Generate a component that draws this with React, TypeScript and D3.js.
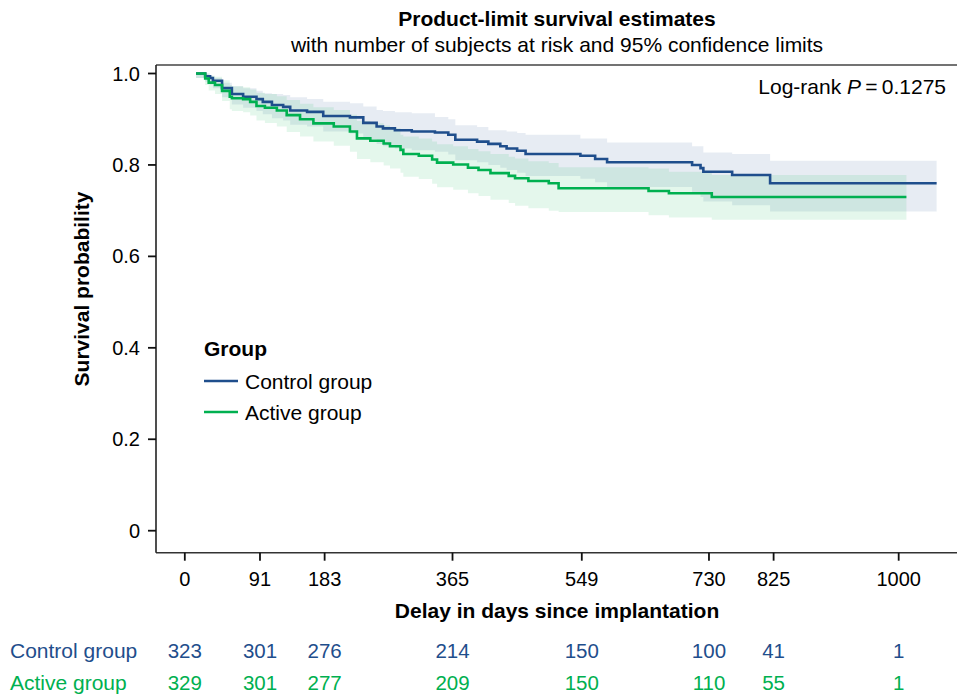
import React from 'react';
import * as d3 from 'd3';

// Kaplan-Meier steps (days, survival, 95% limits)
const ctrlDays = [0, 13, 20, 24, 37, 51, 67, 86, 95, 108, 124, 134, 158, 181, 219, 238, 257, 266, 283, 307, 340, 359, 369, 400, 416, 433, 442, 457, 469, 547, 568, 585, 706, 718, 722, 763, 817];
const ctrlSurv = [1.0, .994, .990, .984, .968, .955, .949, .944, .938, .931, .927, .919, .916, .907, .904, .892, .884, .880, .876, .873, .871, .866, .855, .851, .846, .841, .836, .831, .824, .820, .813, .806, .800, .793, .785, .778, .760];
const ctrlUpper = [1.0, 1.0, .995, .99, .98, .972, .968, .962, .957, .955, .953, .948, .944, .938, .935, .928, .920, .918, .915, .913, .905, .900, .887, .883, .876, .876, .873, .870, .866, .858, .858, .849, .841, .841, .827, .824, .809];
const ctrlLower = [.99, .982, .976, .968, .948, .932, .925, .918, .911, .902, .897, .888, .884, .873, .869, .856, .846, .841, .836, .832, .829, .823, .810, .806, .800, .794, .789, .783, .776, .770, .762, .752, .740, .730, .720, .712, .698];
const ctrlEnd = 1054;

const actDays = [0, 13, 18, 27, 37, 48, 51, 67, 77, 86, 98, 115, 129, 148, 167, 196, 219, 229, 248, 267, 276, 291, 295, 317, 336, 343, 366, 387, 402, 419, 445, 454, 473, 502, 516, 644, 673, 734];
const actSurv = [1.0, .989, .980, .975, .962, .949, .946, .944, .938, .929, .925, .919, .909, .900, .891, .884, .873, .858, .853, .847, .841, .833, .824, .820, .812, .805, .801, .794, .789, .782, .776, .771, .765, .760, .749, .743, .738, .730];
const actUpper = [1.0, 1.0, .995, .993, .985, .975, .972, .970, .965, .958, .955, .950, .942, .934, .926, .920, .910, .896, .891, .886, .880, .866, .862, .858, .851, .845, .841, .835, .830, .824, .818, .814, .808, .804, .795, .792, .785, .778];
const actLower = [.99, .975, .963, .955, .940, .922, .918, .915, .908, .897, .892, .884, .872, .862, .851, .842, .829, .813, .806, .799, .792, .783, .774, .769, .759, .751, .746, .738, .732, .724, .717, .711, .705, .700, .697, .690, .685, .680];
const actEnd = 1011;

const xTickDays = [-16, 91, 183, 365, 549, 730, 822, 1000];
const xTickLabels = ['0', '91', '183', '365', '549', '730', '825', '1000'];
const yTicks = [0, 0.2, 0.4, 0.6, 0.8, 1.0];
const yTickLabels = ['0', '0.2', '0.4', '0.6', '0.8', '1.0'];

const ctrlAtRisk = [323, 301, 276, 214, 150, 100, 41, 1];
const actAtRisk = [329, 301, 277, 209, 150, 110, 55, 1];

const CTRL = '#1f4e8c';
const ACT = '#00b050';
const FONT = '"Liberation Sans", Arial, sans-serif';

const W = 957, H = 696;
const left = 156, top = 65, bottom = 552.7, right = 960;

function build(days: number[], surv: number[], lo: number[], hi: number[], end: number) {
  const pts = days.map((d, i) => ({ d, s: surv[i], lo: lo[i], hi: hi[i] }));
  const last = pts[pts.length - 1];
  pts.push({ ...last, d: end });
  return pts;
}

export default function App() {
  const x = d3.scaleLinear().domain([-57, 1083]).range([left, 957]);
  const y = d3.scaleLinear().domain([0, 1]).range([530.7, 73.5]);

  const groups = [
    { name: 'Control group', color: CTRL, pts: build(ctrlDays, ctrlSurv, ctrlLower, ctrlUpper, ctrlEnd), risk: ctrlAtRisk },
    { name: 'Active group', color: ACT, pts: build(actDays, actSurv, actLower, actUpper, actEnd), risk: actAtRisk },
  ];

  type P = { d: number; s: number; lo: number; hi: number };
  const line = d3.line<P>().x(p => x(p.d)).y(p => y(p.s)).curve(d3.curveStepAfter);
  const area = d3.area<P>().x(p => x(p.d)).y0(p => y(p.lo)).y1(p => y(p.hi)).curve(d3.curveStepAfter);

  return (
    <div style={{ position: 'absolute', left: 0, top: 0 }}>
      <svg width={W} height={H} style={{ display: 'block', fontFamily: FONT }}>
        <rect width={W} height={H} fill="#fff" />
        <text x={557} y={26} textAnchor="middle" fontSize={21} fontWeight="bold">Product-limit survival estimates</text>
        <text x={557} y={52} textAnchor="middle" fontSize={21}>with number of subjects at risk and 95% confidence limits</text>

        {groups.map(g => (
          <path key={'b' + g.name} d={area(g.pts) || ''} fill={g.color} fillOpacity={0.105} />
        ))}
        {groups.map(g => (
          <path key={'l' + g.name} d={line(g.pts) || ''} fill="none" stroke={g.color} strokeWidth={2.6} />
        ))}

        {/* frame */}
        <line x1={left} x2={right} y1={top} y2={top} stroke="#444" strokeWidth={1.6} />
        <line x1={left} x2={right} y1={bottom} y2={bottom} stroke="#333" strokeWidth={1.6} />
        <line x1={left} x2={left} y1={top} y2={bottom} stroke="#222" strokeWidth={1.6} />

        {yTicks.map((t, i) => (
          <g key={'y' + t}>
            <line x1={148} x2={left} y1={y(t)} y2={y(t)} stroke="#111" strokeWidth={1.8} />
            <text x={140} y={y(t) + 7} textAnchor="end" fontSize={20}>{yTickLabels[i]}</text>
          </g>
        ))}
        {xTickDays.map((t, i) => (
          <g key={'x' + t}>
            <line x1={x(t)} x2={x(t)} y1={bottom} y2={bottom + 8} stroke="#111" strokeWidth={1.8} />
            <text x={x(t)} y={586} textAnchor="middle" fontSize={20}>{xTickLabels[i]}</text>
            {groups.map((g, j) => (
              <text key={g.name} x={x(t)} y={658 + j * 32} textAnchor="middle" fontSize={20.5} fill={g.color}>{g.risk[i]}</text>
            ))}
          </g>
        ))}
        {groups.map((g, j) => (
          <text key={'n' + g.name} x={10} y={658 + j * 32} fontSize={21} fill={g.color}>{g.name}</text>
        ))}

        <text x={557} y={618} textAnchor="middle" fontSize={21} fontWeight="bold">Delay in days since implantation</text>
        <text transform={`translate(89,289) rotate(-90)`} textAnchor="middle" fontSize={21} fontWeight="bold">Survival probability</text>

        <text x={946} y={94} textAnchor="end" fontSize={21}>
          Log-rank <tspan fontStyle="italic">P</tspan>{'\u2009'}={'\u2009'}0.1275
        </text>

        <text x={204} y={356} fontSize={21} fontWeight="bold">Group</text>
        {groups.map((g, j) => (
          <g key={'lg' + g.name}>
            <line x1={204} x2={238} y1={381 + j * 31} y2={381 + j * 31} stroke={g.color} strokeWidth={2.6} />
            <text x={245} y={388.5 + j * 31} fontSize={21}>{g.name}</text>
          </g>
        ))}
      </svg>
    </div>
  );
}
